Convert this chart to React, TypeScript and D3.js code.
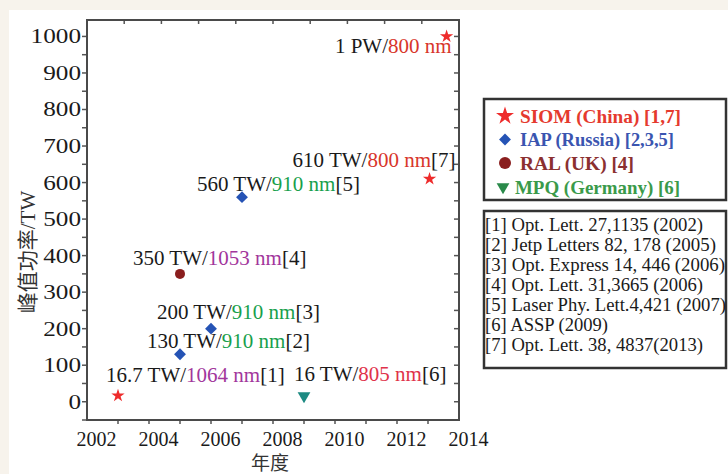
import React from "react";
import * as d3 from "d3";

// ---- data ----
const siomYears = [2003, 2013.05, 2013.6];
const siomPower = [16.7, 610, 1000];
const iapYears = [2005, 2006, 2007];
const iapPower = [130, 200, 560];
const ralYears = [2005];
const ralPower = [350];
const mpqYears = [2009];
const mpqPower = [16];

const xTicks = [2002, 2004, 2006, 2008, 2010, 2012, 2014];
const yTicks = [0, 100, 200, 300, 400, 500, 600, 700, 800, 900, 1000];

const labelYears = [2013.6, 2013.05, 2007, 2005, 2006, 2005, 2003, 2009];
const labelPower = [1000, 610, 560, 350, 200, 130, 16.7, 16];
const labelHead = ["1 PW/", "610 TW/", "560 TW/", "350 TW/", "200 TW/", "130 TW/", "16.7 TW/", "16 TW/"];
const labelWave = ["800 nm", "800 nm", "910 nm", "1053 nm", "910 nm", "910 nm", "1064 nm", "805 nm"];
const labelRef = ["", "[7]", "[5]", "[4]", "[3]", "[2]", "[1]", "[6]"];

const legendNames = ["SIOM (China) [1,7]", "IAP (Russia) [2,3,5]", "RAL (UK) [4]", "MPQ (Germany) [6]"];
const refTexts = [
  "[1] Opt. Lett. 27,1135 (2002)",
  "[2] Jetp Letters 82, 178 (2005)",
  "[3] Opt. Express 14, 446 (2006)",
  "[4] Opt. Lett. 31,3665 (2006)",
  "[5] Laser Phy. Lett.4,421 (2007)",
  "[6] ASSP (2009)",
  "[7] Opt. Lett. 38, 4837(2013)",
];

// ---- styles / layout ----
const waveColor: Record<string, string> = {
  "800 nm": "#d8352a",
  "910 nm": "#18a04c",
  "1053 nm": "#a2369c",
  "1064 nm": "#a2369c",
  "805 nm": "#e0324a",
};
const labelOffsets = [
  { dx: 5, dy: 17, anchor: "end" },
  { dx: 26, dy: -12, anchor: "end" },
  { dx: -45, dy: -6, anchor: "start" },
  { dx: -47, dy: -9, anchor: "start" },
  { dx: -54, dy: -10, anchor: "start" },
  { dx: -33, dy: -6, anchor: "start" },
  { dx: -12, dy: -14, anchor: "start" },
  { dx: -10, dy: -15, anchor: "start" },
];
const legendTextLen = [161, 154, 114, 165];
const refTextLen = [218, 231, 240, 218, 241, 123, 218];

const SERIF = "'Liberation Serif', 'Times New Roman', serif";
const CJK = "'Noto Sans CJK SC', sans-serif";

const C_STAR = "#ee2b2b";
const C_DIAM = "#2553b5";
const C_CIRC = "#8a1e1e";
const C_TRI = "#1d8a82";

export default function App() {
  const left = 87, right = 459, top = 20, bottom = 420;
  const x = d3.scaleLinear().domain([2002, 2014]).range([left, right]);
  const y = d3.scaleLinear().domain([-50, 1045]).range([bottom, top]);

  const star = d3.symbol().type(d3.symbolStar).size(55)() as string;
  const starLg = d3.symbol().type(d3.symbolStar).size(100)() as string;
  const square = d3.symbol().type(d3.symbolSquare).size(70)() as string;
  const tri = d3.symbol().type(d3.symbolTriangle).size(70)() as string;

  const yMinor = d3.range(-50, 1001, 50);
  const topTicks = d3.range(1, 10).map((i) => left + ((right - left) * i) / 10);
  const yearTicks = d3.range(2003, 2014, 1);

  const legendRowY = [116, 139.5, 163, 187];
  const legendColors = ["#e53a2e", "#3a55b0", "#8b3030", "#3a9a4a"];

  return (
    <svg width={728} height={474} style={{ position: "absolute", left: 0, top: 0 }}>
      <rect x={0} y={0} width={728} height={474} fill="#f7f3ec" />
      <rect x={9} y={10} width={719} height={464} fill="#ffffff" />

      {/* ticks */}
      <g stroke="#555" strokeWidth={1.5}>
        {yMinor.map((v) => (
          <line key={"l" + v} x1={left - 5} x2={left} y1={y(v)} y2={y(v)} />
        ))}
        {yMinor.map((v) => (
          <line key={"r" + v} x1={right - 5} x2={right} y1={y(v)} y2={y(v)} />
        ))}
        {topTicks.map((px, i) => (
          <line key={"t" + i} x1={px} x2={px} y1={top} y2={top + 4} />
        ))}
        {yearTicks.map((v) => (
          <line key={"b" + v} x1={x(v)} x2={x(v)} y1={bottom} y2={bottom + 4} />
        ))}
      </g>
      <rect x={left} y={top} width={right - left} height={bottom - top} fill="none" stroke="#4a4a4a" strokeWidth={2} />

      {/* tick labels */}
      <g fontFamily={SERIF} fontSize={20} fill="#1a1a1a">
        {yTicks.map((v) => (
          <text
            key={"yl" + v}
            x={81}
            y={y(v) + 7}
            textAnchor="end"
            textLength={String(v).length * 12.6}
            lengthAdjust="spacingAndGlyphs"
          >
            {v}
          </text>
        ))}
        {xTicks.map((v) => (
          <text key={"xl" + v} x={x(v) + 9.5} y={446} textAnchor="middle">
            {v}
          </text>
        ))}
      </g>

      {/* axis titles */}
      <text x={270} y={470} textAnchor="middle" fontFamily={CJK} fontSize={19} fill="#333">
        年度
      </text>
      <text
        transform="translate(35,252) rotate(-90)"
        textAnchor="middle"
        fontFamily={SERIF}
        fontSize={21}
        fill="#333"
      >
        <tspan fontFamily={CJK}>峰值功率</tspan>
        <tspan>/TW</tspan>
      </text>

      {/* marks */}
      {siomYears.map((v, i) => (
        <path key={"s" + i} d={star} transform={`translate(${x(v)},${y(siomPower[i])})`} fill={C_STAR} />
      ))}
      {iapYears.map((v, i) => (
        <path key={"d" + i} d={square} transform={`translate(${x(v)},${y(iapPower[i])}) rotate(45)`} fill={C_DIAM} />
      ))}
      {ralYears.map((v, i) => (
        <circle key={"c" + i} cx={x(v)} cy={y(ralPower[i])} r={5} fill={C_CIRC} />
      ))}
      {mpqYears.map((v, i) => (
        <path key={"m" + i} d={tri} transform={`translate(${x(v)},${y(mpqPower[i])}) rotate(180)`} fill={C_TRI} />
      ))}

      {/* annotations */}
      <g fontFamily={SERIF} fontSize={21} fill="#1a1a1a">
        {labelYears.map((v, i) => (
          <text
            key={"a" + i}
            x={x(v) + labelOffsets[i].dx}
            y={y(labelPower[i]) + labelOffsets[i].dy}
            textAnchor={labelOffsets[i].anchor as any}
          >
            <tspan>{labelHead[i]}</tspan>
            <tspan fill={waveColor[labelWave[i]]}>{labelWave[i]}</tspan>
            <tspan>{labelRef[i]}</tspan>
          </text>
        ))}
      </g>

      {/* legend box 1 */}
      <rect x={484} y={99} width={242} height={101} fill="#fff" stroke="#333" strokeWidth={2.5} />
      <path d={starLg} transform={`translate(505,${legendRowY[0]})`} fill={C_STAR} />
      <path d={square} transform={`translate(505,${legendRowY[1]}) rotate(45)`} fill={C_DIAM} />
      <circle cx={505} cy={legendRowY[2]} r={6} fill={C_CIRC} />
      <path d={tri} transform={`translate(503,${legendRowY[3]}) rotate(180)`} fill="#2a8a4a" />
      <g fontFamily={SERIF} fontSize={19.5} fontWeight="bold">
        {legendNames.map((n, i) => (
          <text
            key={"ln" + i}
            x={i === 3 ? 515 : 520}
            y={legendRowY[i] + 6.5}
            fill={legendColors[i]}
            textLength={legendTextLen[i]}
            lengthAdjust="spacingAndGlyphs"
          >
            {n}
          </text>
        ))}
      </g>

      {/* legend box 2 */}
      <rect x={484} y={211} width={242} height={157} fill="#fff" stroke="#333" strokeWidth={2.5} />
      <g fontFamily={SERIF} fontSize={18.5} fill="#1a1a1a">
        {refTexts.map((t, i) => (
          <text key={"rt" + i} x={485} y={231 + i * 20} textLength={refTextLen[i]} lengthAdjust="spacingAndGlyphs">
            {t}
          </text>
        ))}
      </g>
    </svg>
  );
}
